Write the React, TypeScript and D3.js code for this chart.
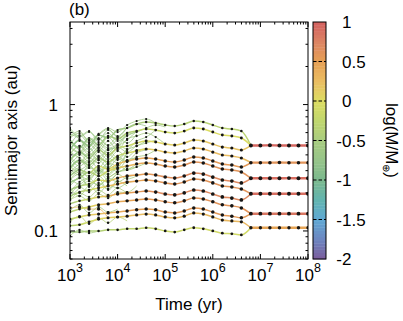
import * as d3 from 'd3';

// output times, log10(yr)
const LOG_T = [3.0, 3.2, 3.4, 3.6, 3.8, 4.0, 4.2, 4.4, 4.6, 4.8, 5.0, 5.2, 5.4, 5.6, 5.8, 6.0, 6.2, 6.4, 6.6, 6.8, 7.0, 7.2, 7.4, 7.6, 7.8, 8.0];

// bodies that survive until the last giant impacts (au, one value per output from 10^3 to 10^6.6)
const SURV_A = [
  [0.437, 0.524, 0.470, 0.574, 0.544, 0.629, 0.652, 0.701, 0.727, 0.714, 0.689, 0.676, 0.701, 0.741, 0.727, 0.689, 0.652, 0.640, 0.617],
  [0.524, 0.453, 0.544, 0.478, 0.564, 0.534, 0.595, 0.617, 0.640, 0.629, 0.606, 0.595, 0.617, 0.652, 0.640, 0.606, 0.574, 0.564, 0.544],
  [0.364, 0.421, 0.378, 0.437, 0.399, 0.453, 0.470, 0.496, 0.515, 0.505, 0.487, 0.478, 0.496, 0.524, 0.515, 0.487, 0.461, 0.453, 0.437],
  [0.315, 0.364, 0.332, 0.378, 0.351, 0.392, 0.414, 0.429, 0.445, 0.437, 0.421, 0.414, 0.429, 0.453, 0.445, 0.421, 0.399, 0.392, 0.378],
  [0.272, 0.304, 0.287, 0.326, 0.309, 0.339, 0.358, 0.371, 0.378, 0.371, 0.358, 0.351, 0.364, 0.385, 0.378, 0.358, 0.339, 0.332, 0.321],
  [0.244, 0.262, 0.293, 0.272, 0.298, 0.315, 0.326, 0.339, 0.345, 0.339, 0.326, 0.321, 0.332, 0.351, 0.345, 0.326, 0.309, 0.304, 0.293],
  [0.211, 0.227, 0.235, 0.253, 0.248, 0.262, 0.272, 0.277, 0.282, 0.277, 0.267, 0.262, 0.272, 0.287, 0.282, 0.267, 0.253, 0.248, 0.240],
  [0.189, 0.203, 0.211, 0.219, 0.227, 0.235, 0.244, 0.248, 0.253, 0.248, 0.240, 0.235, 0.244, 0.258, 0.253, 0.240, 0.227, 0.223, 0.215],
  [0.164, 0.173, 0.179, 0.186, 0.189, 0.196, 0.200, 0.203, 0.207, 0.203, 0.196, 0.193, 0.200, 0.211, 0.207, 0.196, 0.186, 0.182, 0.176],
  [0.141, 0.149, 0.155, 0.161, 0.164, 0.170, 0.173, 0.176, 0.179, 0.176, 0.170, 0.167, 0.173, 0.182, 0.179, 0.170, 0.161, 0.158, 0.152],
  [0.124, 0.129, 0.134, 0.136, 0.139, 0.141, 0.144, 0.147, 0.149, 0.147, 0.141, 0.139, 0.144, 0.152, 0.149, 0.141, 0.134, 0.131, 0.127],
  [0.110, 0.112, 0.118, 0.124, 0.127, 0.129, 0.131, 0.134, 0.136, 0.134, 0.129, 0.127, 0.131, 0.139, 0.136, 0.129, 0.122, 0.120, 0.118],
  [0.098, 0.098, 0.100, 0.100, 0.102, 0.102, 0.104, 0.104, 0.106, 0.104, 0.100, 0.098, 0.102, 0.106, 0.104, 0.100, 0.096, 0.095, 0.093],
];

// log(M/Mearth) of the same bodies
const SURV_M = [
  [-0.8, -0.75, -0.7, -0.7, -0.65, -0.6, -0.55, -0.5, -0.45, -0.45, -0.4, -0.4, -0.35, -0.35, -0.35, -0.3, -0.3, -0.3, -0.3],
  [-0.75, -0.7, -0.7, -0.6, -0.55, -0.5, -0.4, -0.3, -0.2, -0.15, -0.1, -0.1, -0.05, -0.05, 0.0, 0.0, 0.0, 0.0, 0.0],
  [-0.7, -0.65, -0.6, -0.5, -0.4, -0.3, -0.2, -0.1, 0.0, 0.05, 0.1, 0.1, 0.15, 0.15, 0.15, 0.2, 0.2, 0.2, 0.2],
  [-0.7, -0.65, -0.6, -0.5, -0.4, -0.3, -0.1, 0.0, 0.1, 0.15, 0.2, 0.2, 0.2, 0.25, 0.25, 0.25, 0.25, 0.25, 0.25],
  [-0.65, -0.55, -0.4, -0.2, 0.0, 0.2, 0.3, 0.4, 0.45, 0.5, 0.5, 0.55, 0.55, 0.55, 0.55, 0.55, 0.55, 0.55, 0.55],
  [-0.7, -0.6, -0.45, -0.3, -0.1, 0.1, 0.25, 0.35, 0.45, 0.5, 0.55, 0.55, 0.6, 0.6, 0.6, 0.6, 0.6, 0.6, 0.6],
  [-0.6, -0.45, -0.3, -0.1, 0.1, 0.3, 0.4, 0.5, 0.55, 0.6, 0.65, 0.65, 0.7, 0.7, 0.7, 0.7, 0.7, 0.7, 0.7],
  [-0.55, -0.4, -0.2, 0.0, 0.2, 0.3, 0.4, 0.45, 0.5, 0.55, 0.6, 0.6, 0.6, 0.6, 0.6, 0.6, 0.6, 0.6, 0.6],
  [-0.5, -0.3, -0.1, 0.1, 0.3, 0.4, 0.5, 0.55, 0.6, 0.65, 0.7, 0.7, 0.7, 0.7, 0.7, 0.7, 0.7, 0.7, 0.7],
  [-0.4, -0.2, 0.0, 0.2, 0.3, 0.4, 0.45, 0.5, 0.55, 0.55, 0.6, 0.6, 0.6, 0.6, 0.6, 0.6, 0.6, 0.6, 0.6],
  [-0.3, -0.1, 0.1, 0.2, 0.3, 0.4, 0.45, 0.5, 0.5, 0.5, 0.55, 0.55, 0.55, 0.55, 0.55, 0.55, 0.55, 0.55, 0.55],
  [-0.4, -0.2, -0.1, 0.05, 0.1, 0.15, 0.2, 0.25, 0.25, 0.3, 0.3, 0.3, 0.3, 0.3, 0.3, 0.3, 0.3, 0.3, 0.3],
  [-0.6, -0.5, -0.45, -0.4, -0.35, -0.3, -0.25, -0.25, -0.2, -0.2, -0.15, -0.15, -0.15, -0.1, -0.1, -0.1, -0.1, -0.1, -0.1],
];

// which final planet each survivor ends up in
const SURV_INTO = [0, 0, 0, 1, 1, 2, 2, 3, 3, 4, 4, 5, 5];

// final planets, 10^6.8 .. 10^8 yr
const FINAL_A = [
  [0.475, 0.475, 0.476, 0.475, 0.475, 0.474, 0.475],
  [0.347, 0.347, 0.347, 0.348, 0.347, 0.347, 0.347],
  [0.261, 0.261, 0.261, 0.261, 0.262, 0.261, 0.261],
  [0.197, 0.197, 0.197, 0.197, 0.197, 0.197, 0.197],
  [0.137, 0.137, 0.137, 0.137, 0.137, 0.137, 0.137],
  [0.106, 0.106, 0.106, 0.106, 0.106, 0.106, 0.106],
];
const FINAL_M = [0.95, 0.6, 0.9, 0.9, 0.85, 0.45];

// small embryos that get accreted early (from 10^3 yr, last value = impact)
const CHAOS_A = [
  [0.585, 0.534, 0.437, 0.505, 0.453, 0.487, 0.595],
  [0.478, 0.574, 0.496, 0.544, 0.470, 0.534],
  [0.399, 0.470, 0.421, 0.487, 0.437, 0.470, 0.524, 0.617],
  [0.339, 0.399, 0.453, 0.385, 0.445, 0.453],
  [0.293, 0.339, 0.378, 0.345, 0.406, 0.364, 0.437, 0.470, 0.515],
  [0.227, 0.272, 0.315, 0.298, 0.345, 0.326, 0.414],
  [0.203, 0.244, 0.267, 0.304, 0.277, 0.339],
  [0.182, 0.219, 0.248, 0.231, 0.262, 0.293, 0.304, 0.339],
  [0.544, 0.595, 0.524, 0.585, 0.652, 0.606, 0.689, 0.741, 0.768, 0.714],
  [0.461, 0.414, 0.487, 0.429, 0.515, 0.437, 0.534, 0.564, 0.595, 0.553, 0.487],
  [0.421, 0.378, 0.345, 0.421, 0.364, 0.429, 0.385, 0.437, 0.445],
  [0.378, 0.326, 0.364, 0.315, 0.378, 0.345, 0.414],
  [0.326, 0.282, 0.253, 0.304, 0.267, 0.293, 0.309, 0.321, 0.345],
  [0.262, 0.235, 0.262, 0.227, 0.262, 0.244, 0.267, 0.277],
  [0.219, 0.189, 0.227, 0.200, 0.231, 0.219, 0.240, 0.248],
  [0.176, 0.189, 0.173, 0.196, 0.182, 0.203, 0.200],
  [0.152, 0.155, 0.149, 0.149, 0.127],
  [0.0913, 0.1018, 0.0964, 0.1000],
  [0.496, 0.437, 0.392, 0.461, 0.414, 0.478, 0.445, 0.515, 0.553, 0.629],
  [0.351, 0.304, 0.332, 0.282, 0.326, 0.293, 0.326],
  [0.253, 0.282, 0.223, 0.258, 0.211, 0.262],
  [0.652, 0.564, 0.617, 0.534, 0.595, 0.515, 0.564, 0.617],
  [0.304, 0.358, 0.315, 0.364, 0.315, 0.371, 0.351, 0.385, 0.399, 0.437],
  [0.553, 0.617, 0.505, 0.574, 0.640, 0.553, 0.664],
  [0.445, 0.515, 0.461, 0.534, 0.478, 0.553, 0.496, 0.585],
  [0.385, 0.345, 0.414, 0.364, 0.437, 0.378, 0.453],
  [0.358, 0.406, 0.351, 0.392, 0.339, 0.385, 0.358, 0.414, 0.437],
  [0.309, 0.277, 0.326, 0.287, 0.339, 0.304, 0.364, 0.378],
  [0.282, 0.315, 0.262, 0.298, 0.253, 0.287],
  [0.235, 0.262, 0.227, 0.272, 0.240, 0.282, 0.258, 0.272],
  [0.196, 0.223, 0.203, 0.240, 0.215, 0.248, 0.227],
  [0.629, 0.553, 0.606, 0.524, 0.629, 0.564, 0.652, 0.701, 0.676],
  [0.414, 0.470, 0.399, 0.453, 0.385, 0.461, 0.421, 0.470, 0.496, 0.524],
  [0.258, 0.293, 0.272, 0.315, 0.282, 0.332, 0.304, 0.321],
  [0.176, 0.200, 0.186, 0.211, 0.193, 0.219, 0.203, 0.227],
  [0.470, 0.421, 0.524, 0.453, 0.553, 0.478, 0.574, 0.606, 0.652, 0.689, 0.664],
  [0.144, 0.161, 0.139, 0.155, 0.141, 0.149],
  [0.118, 0.131, 0.114, 0.127, 0.116, 0.129, 0.120],
];
const CHAOS_M = [
  -0.65, -0.7, -0.6, -0.75, -0.55, -0.65, -0.6, -0.5, -0.6, -0.55, -0.6, -0.7, -0.5, -0.6, -0.55, -0.45, 0.35, -0.5, -0.6, -0.65, -0.6, -0.65, -0.55,
  -0.6, -0.65, -0.55, -0.5, -0.65, -0.6, -0.55, -0.5, -0.7, -0.55, -0.5, -0.45, -0.6, -0.5, -0.35,
];

// colour bar
const CB_STOPS = [-2, -1.75, -1.5, -1.25, -1, -0.75, -0.5, -0.25, 0, 0.25, 0.5, 0.75, 1];
const CB_COLORS = ['#7c5c9c', '#6c86c0', '#60a8d4', '#62b4b0', '#7cb98e', '#96c48a', '#a8cc80', '#c0d66e', '#dcdc62', '#eabd62', '#e6a055', '#dc8464', '#d3605f'];
const CB_TICKS = [-2, -1.5, -1, -0.5, 0, 0.5, 1];

const X_TICK_EXP = [3, 4, 5, 6, 7, 8];
const Y_TICKS = [0.1, 1];

type Pt = { t: number; a: number; m: number; dot: boolean };

const FONT = '"Liberation Sans", Arial, Helvetica, sans-serif';

export default function App() {
  const left = 70, right = 308, top = 22, bottom = 259;
  const x = d3.scaleLog().domain([1e3, 1e8]).range([left, right]);
  const y = d3.scaleLog().domain([0.06, 4.5]).range([bottom, top]);
  const cb = d3.scaleLinear().domain([-2, 1]).range([bottom, top]);
  const color = d3.scaleLinear<string>().domain(CB_STOPS).range(CB_COLORS).interpolate(d3.interpolateRgb).clamp(true);

  const tracks: { pts: Pt[]; w: number }[] = [];
  CHAOS_A.forEach((arr, k) => {
    tracks.push({ w: 0.8, pts: arr.map((a, i) => ({ t: LOG_T[i], a, m: CHAOS_M[k], dot: i < arr.length - 1 })) });
  });
  const finalStart = SURV_A[0].length;
  SURV_A.forEach((arr, k) => {
    const pts: Pt[] = arr.map((a, i) => ({ t: LOG_T[i], a, m: SURV_M[k][i], dot: true }));
    pts.push({ t: LOG_T[finalStart], a: FINAL_A[SURV_INTO[k]][0], m: SURV_M[k][arr.length - 1], dot: false });
    tracks.push({ w: 1.5, pts });
  });
  FINAL_A.forEach((arr, k) => {
    tracks.push({ w: 2.4, pts: arr.map((a, i) => ({ t: LOG_T[finalStart + i], a, m: FINAL_M[k], dot: true })) });
  });

  const px = (p: Pt) => x(Math.pow(10, p.t));
  const line = d3.line<Pt>().x(px).y(p => y(p.a)).curve(d3.curveMonotoneX);
  const dotR = (m: number) => Math.max(1.0, 0.9 + 0.55 * (m + 1));

  const xMinor = x.ticks();
  const yMinor = y.ticks();
  const strips = d3.range(-2, 1, 0.04);

  return (
    <svg width={403} height={321} style={{ position: 'fixed', left: 0, top: 0, background: '#fff' }} fontFamily={FONT}>
      <defs>
        <clipPath id="plot"><rect x={left} y={top} width={right - left} height={bottom - top} /></clipPath>
        {tracks.map((tr, i) => {
          const x0 = px(tr.pts[0]), x1 = px(tr.pts[tr.pts.length - 1]);
          return (
            <linearGradient key={i} id={`g${i}`} gradientUnits="userSpaceOnUse" x1={x0} x2={x1} y1={0} y2={0}>
              {tr.pts.map((p, j) => (
                <stop key={j} offset={(px(p) - x0) / (x1 - x0)} stopColor={color(p.m)} />
              ))}
            </linearGradient>
          );
        })}
      </defs>

      <g clipPath="url(#plot)">
        {tracks.map((tr, i) => (
          <path key={i} d={line(tr.pts) || ''} fill="none" stroke={`url(#g${i})`} strokeWidth={tr.w} />
        ))}
        {tracks.map((tr, i) => tr.pts.filter(p => p.dot).map((p, j) => (
          <circle key={`${i}-${j}`} cx={px(p)} cy={y(p.a)} r={dotR(p.m)} fill="#151515" />
        )))}
      </g>

      {/* frame + ticks */}
      <rect x={left} y={top} width={right - left} height={bottom - top} fill="none" stroke="#000" strokeWidth={1} />
      {xMinor.map((v, i) => {
        const major = X_TICK_EXP.some(e => Math.abs(Math.log10(v) - e) < 1e-6);
        const len = major ? 5 : 2.5;
        return (
          <g key={i} stroke="#000" strokeWidth={1}>
            <line x1={x(v)} x2={x(v)} y1={bottom} y2={bottom - len} />
            <line x1={x(v)} x2={x(v)} y1={top} y2={top + len} />
          </g>
        );
      })}
      {yMinor.map((v, i) => {
        const major = Y_TICKS.some(t => Math.abs(t - v) < 1e-9);
        const len = major ? 5 : 2.5;
        return (
          <g key={i} stroke="#000" strokeWidth={1}>
            <line x1={left} x2={left + len} y1={y(v)} y2={y(v)} />
            <line x1={right} x2={right - len} y1={y(v)} y2={y(v)} />
          </g>
        );
      })}

      {/* tick labels */}
      {Y_TICKS.map(v => (
        <text key={v} x={left - 12} y={y(v)} dy="0.36em" textAnchor="end" fontSize={17}>{String(v)}</text>
      ))}
      {X_TICK_EXP.map(e => (
        <text key={e} x={x(Math.pow(10, e))} y={281} textAnchor="middle" fontSize={17}>
          10<tspan dy={-9} fontSize={12.5}>{e}</tspan>
        </text>
      ))}

      <text x={(left + right) / 2} y={310} textAnchor="middle" fontSize={17}>Time (yr)</text>
      <text transform={`translate(17,${(top + bottom) / 2}) rotate(-90)`} textAnchor="middle" fontSize={17}>Semimajor axis (au)</text>
      <text x={69} y={15} fontSize={17}>(b)</text>

      {/* colour bar */}
      {strips.map((v, i) => (
        <rect key={i} x={313} y={cb(v + 0.04)} width={13} height={cb(v) - cb(v + 0.04) + 0.4} fill={color(v + 0.02)} />
      ))}
      {CB_TICKS.filter(v => v > -2 && v < 1).map(v => (
        <line key={v} x1={313} x2={326} y1={cb(v)} y2={cb(v)} stroke="#000" strokeWidth={1} strokeDasharray="3.5,2" />
      ))}
      <rect x={313} y={top} width={13} height={bottom - top} fill="none" stroke="#000" strokeWidth={1} />
      {CB_TICKS.map(v => (
        <text key={v} x={v < 0 ? 336.3 : 342} y={cb(v)} dy="0.36em" fontSize={17}>{String(v)}</text>
      ))}
      <text transform={`translate(386,${(top + bottom) / 2}) rotate(90)`} textAnchor="middle" fontSize={17}>
        log(M/M<tspan dy={3} fontSize={10}>⊕</tspan><tspan dy={-3}>)</tspan>
      </text>
    </svg>
  );
}
